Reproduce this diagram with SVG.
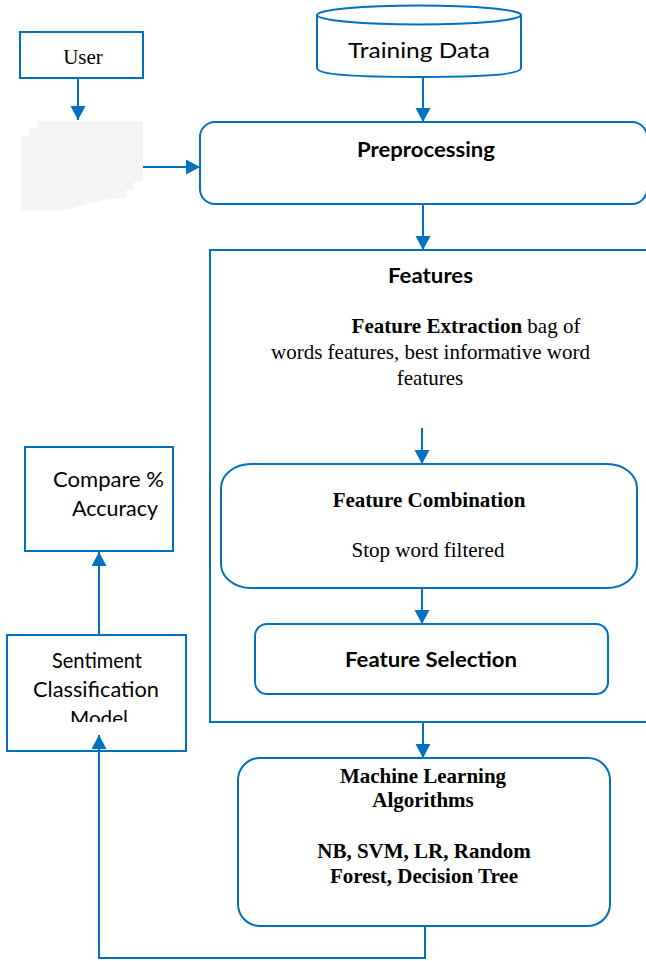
<svg xmlns="http://www.w3.org/2000/svg" width="646" height="961" viewBox="0 0 646 961">
  <style>
    .box { fill: #ffffff; stroke: #0070c0; stroke-width: 2; }
    .wire { fill: none; stroke: #0070c0; stroke-width: 2; }
    .serif { font-family: "Liberation Serif", "Times New Roman", serif; font-size: 21px; fill: #000; }
    .sans { font-family: Lato, "Liberation Sans", Arial, sans-serif; font-size: 21px; fill: #000; }
    .b { font-weight: bold; }
  </style>
  <defs>
    <marker id="arrow" markerUnits="userSpaceOnUse" markerWidth="16" markerHeight="16" refX="14" refY="7.5" orient="auto">
      <path d="M0,0 L14,7.5 L0,15 Z" fill="#0070c0"/>
    </marker>
    <clipPath id="modelClip">
      <rect x="0" y="600" width="200" height="122"/>
    </clipPath>
  </defs>
  <rect width="646" height="961" fill="#ffffff"/>

  <!-- Features frame (open on the right) -->
  <g id="features">
    <path class="wire" d="M646,250 H210 V722 H646"/>
    <text class="sans b" x="388" y="283" textLength="85" lengthAdjust="spacingAndGlyphs">Features</text>
    <text class="serif" x="466" y="333" text-anchor="middle"><tspan class="b">Feature Extraction</tspan> bag of</text>
    <text class="serif" x="430.5" y="359" text-anchor="middle">words features, best informative word</text>
    <text class="serif" x="430" y="385" text-anchor="middle">features</text>
  </g>

  <g id="user">
    <rect class="box" x="20" y="32" width="123" height="46"/>
    <text class="serif" x="83" y="64" text-anchor="middle">User</text>
  </g>

  <!-- stacked documents -->
  <g id="documents">
    <path d="M37,121 H143 V182 H134 V190 H126 V198 C110,198 95,201 80,206 C65,211 45,212 21,210 V136 H29 V128 H37 Z" fill="#f4f4f4"/>
  </g>

  <g id="training-data">
    <path class="box" stroke-width="1.8" d="M317,15 V68 C317,75 360,77 419,77 C478,77 521,75 521,68 V15"/>
    <ellipse class="box" stroke-width="1.8" cx="419" cy="15" rx="102" ry="9.5"/>
    <text class="sans" x="348" y="58" font-size="24" textLength="142" lengthAdjust="spacingAndGlyphs">Training Data</text>
  </g>

  <g id="preprocessing">
    <rect class="box" x="200" y="122" width="447" height="82" rx="15" ry="15"/>
    <text class="sans b" x="357" y="157" textLength="138" lengthAdjust="spacingAndGlyphs">Preprocessing</text>
  </g>

  <g id="feature-combination">
    <rect class="box" x="221" y="464" width="416" height="124" rx="30" ry="24"/>
    <text class="serif b" x="429" y="507" text-anchor="middle">Feature Combination</text>
    <text class="serif" x="428" y="557" text-anchor="middle">Stop word filtered</text>
  </g>

  <g id="feature-selection">
    <rect class="box" x="255" y="624" width="353" height="70" rx="12" ry="12"/>
    <text class="sans b" x="345" y="666.5" textLength="172" lengthAdjust="spacingAndGlyphs">Feature Selection</text>
  </g>

  <g id="ml-algorithms">
    <rect class="box" x="238" y="758" width="372" height="168" rx="22" ry="22"/>
    <text class="serif b" x="423" y="783" text-anchor="middle">Machine Learning</text>
    <text class="serif b" x="423" y="807" text-anchor="middle">Algorithms</text>
    <text class="serif b" x="424" y="858" text-anchor="middle">NB, SVM, LR, Random</text>
    <text class="serif b" x="424" y="883" text-anchor="middle">Forest, Decision Tree</text>
  </g>

  <g id="compare-accuracy">
    <rect class="box" x="25" y="447" width="148" height="104" stroke-width="3"/>
    <text class="sans" x="53" y="487" textLength="111" lengthAdjust="spacingAndGlyphs">Compare %</text>
    <text class="sans" x="72" y="516" textLength="86" lengthAdjust="spacingAndGlyphs">Accuracy</text>
  </g>

  <g id="sentiment-model">
    <rect class="box" x="7" y="635" width="179" height="116" stroke-width="2.5"/>
    <text class="sans" x="97" y="668" text-anchor="middle" textLength="90" lengthAdjust="spacingAndGlyphs">Sentiment</text>
    <text class="sans" x="96" y="697" text-anchor="middle" textLength="126" lengthAdjust="spacingAndGlyphs">Classification</text>
    <text class="sans" x="99" y="726" text-anchor="middle" textLength="58" lengthAdjust="spacingAndGlyphs" clip-path="url(#modelClip)">Model</text>
  </g>

  <g id="connectors">
    <line class="wire" x1="78" y1="78" x2="78" y2="120" marker-end="url(#arrow)"/>
    <line class="wire" x1="143" y1="167" x2="200" y2="167" marker-end="url(#arrow)"/>
    <line class="wire" x1="423" y1="77" x2="423" y2="122" marker-end="url(#arrow)"/>
    <line class="wire" x1="423" y1="204" x2="423" y2="250" marker-end="url(#arrow)"/>
    <line class="wire" x1="422" y1="428" x2="422" y2="464" marker-end="url(#arrow)"/>
    <line class="wire" x1="422" y1="588" x2="422" y2="624" marker-end="url(#arrow)"/>
    <line class="wire" x1="423" y1="722" x2="423" y2="758" marker-end="url(#arrow)"/>
    <polyline class="wire" stroke-width="1.5" points="425,926 425,958 99,958 99,735" marker-end="url(#arrow)"/>
    <line class="wire" x1="99" y1="635" x2="99" y2="552" marker-end="url(#arrow)"/>
  </g>
</svg>
